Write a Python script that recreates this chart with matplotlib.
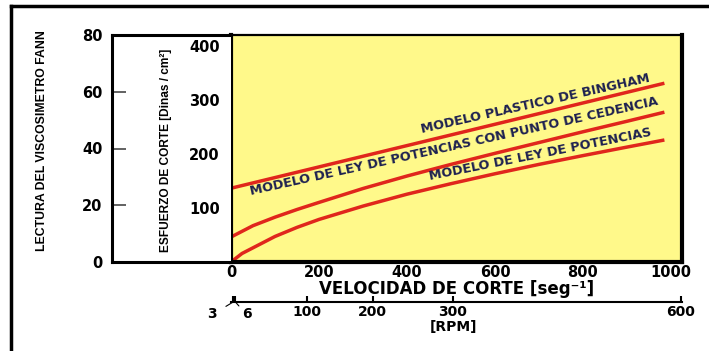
import matplotlib
matplotlib.use('Agg')
import matplotlib.pyplot as plt
from matplotlib.lines import Line2D

# datos (velocidad de corte [1/s], lectura Fann)
bingham_x = [0, 985]
bingham_y = [26, 63]

hb_x = [0, 50, 100, 150, 200, 300, 400, 500, 600, 700, 800, 900, 985]
hb_y = [8.8, 12.8, 15.8, 18.5, 21.0, 25.9, 30.3, 34.4, 38.3, 42.1, 45.9, 49.6, 52.8]

pl_x = [0, 25, 50, 100, 150, 200, 300, 400, 500, 600, 700, 800, 900, 985]
pl_y = [0, 3.0, 5.0, 9.0, 12.2, 15.0, 19.7, 23.9, 27.6, 31.1, 34.4, 37.5, 40.5, 43.0]

x_ticks = [0, 200, 400, 600, 800, 1000]
fann_ticks = [0, 20, 40, 60, 80]
stress_ticks = [100, 200, 300, 400]

rpm_labels = ['3', '6', '100', '200', '300', '600']
rpm_rate = [5, 10, 172, 322, 504, 1022]

model_names = ['MODELO PLASTICO DE BINGHAM',
               'MODELO DE LEY DE POTENCIAS CON PUNTO DE CEDENCIA',
               'MODELO DE LEY DE POTENCIAS']

plt.rcParams['font.family'] = ['DejaVu Sans']
plt.rcParams['font.weight'] = 'bold'

W, H = 709, 351
fig = plt.figure(figsize=(W / 100, H / 100), dpi=100)

# marco exterior (solo arriba e izquierda)
fig.add_artist(Line2D([11 / W, 1], [1 - 6 / H, 1 - 6 / H], color='black', lw=2.5))
fig.add_artist(Line2D([11 / W, 11 / W], [0, 1 - 6 / H], color='black', lw=2.5))

x0, x1, yt, yb = 231, 682, 35, 262
ax = fig.add_axes([x0 / W, 1 - yb / H, (x1 - x0) / W, (yb - yt) / H])
ax.set_facecolor('#fff98a')
ax.set_xlim(0, 1025)
ax.set_ylim(0, 80)

red = '#e0261c'
ax.plot(bingham_x, bingham_y, color=red, lw=2.5, solid_capstyle='butt')
ax.plot(hb_x, hb_y, color=red, lw=2.5, solid_capstyle='butt')
ax.plot(pl_x, pl_y, color=red, lw=2.5, solid_capstyle='butt')

txt = dict(color='#1e2150', fontweight='bold', fontsize=9.3, ha='center', va='center')
ax.text(691, 55.8, model_names[0], rotation=12.7, **txt)
ax.text(507, 40.8, model_names[1], rotation=12.5, **txt)
ax.text(703, 38.0, model_names[2], rotation=11.3, **txt)

ax.set_xticks(x_ticks)
ax.set_xticklabels([str(v) for v in x_ticks], fontweight='bold', fontsize=10.5)
ax.tick_params(axis='x', length=0, pad=2)
ax.set_yticks([])
for s in ['left', 'right', 'bottom']:
    ax.spines[s].set_linewidth(3.0)
ax.spines['top'].set_linewidth(1.6)
ax.set_xlabel('VELOCIDAD DE CORTE [seg⁻¹]', fontweight='bold', fontsize=12, labelpad=0)

# caja blanca de la izquierda: lectura Fann y esfuerzo de corte
ax_l = fig.add_axes([112 / W, 1 - yb / H, (x0 - 112) / W, (yb - yt) / H])
ax_l.set_ylim(0, 80)
ax_l.set_xticks([])
ax_l.set_yticks(fann_ticks)
ax_l.set_yticklabels([str(v) for v in fann_ticks], fontweight='bold', fontsize=10.5)
ax_l.tick_params(axis='y', direction='in', length=10, width=1.3, color='#555555', pad=7)
for s in ['left', 'top', 'bottom']:
    ax_l.spines[s].set_linewidth(2.2)
ax_l.spines['right'].set_visible(False)

ax_s = ax_l.twinx()
ax_s.set_ylim(0, 420)
ax_s.set_yticks(stress_ticks)
ax_s.set_yticklabels([str(v) for v in stress_ticks], fontweight='bold', fontsize=10.5)
ax_s.tick_params(axis='y', length=0, pad=-30)
for s in ax_s.spines.values():
    s.set_visible(False)

fig.text(42 / W, 1 - 141 / H, 'LECTURA DEL VISCOSIMETRO FANN', family='Liberation Sans',
         fontsize=8.8, fontweight='bold', rotation=90, ha='center', va='center')
fig.text(166 / W, 1 - 150 / H, 'ESFUERZO DE CORTE [Dinas / cm²]', family='Liberation Sans',
         fontsize=8.6, fontweight='bold', rotation=90, ha='center', va='center')

# eje de RPM
ax_r = fig.add_axes([x0 / W, 1 - 302 / H, (x1 - x0) / W, 0.001])
ax_r.set_xlim(0, 1025)
ax_r.set_yticks([])
for s in ['left', 'right', 'top']:
    ax_r.spines[s].set_visible(False)
ax_r.spines['bottom'].set_linewidth(1.5)
ax_r.set_xticks(rpm_rate)
ax_r.set_xticklabels(['', ''] + rpm_labels[2:], fontweight='bold', fontsize=10)
ax_r.tick_params(axis='x', direction='in', length=4, width=1.5, pad=2)
ax_r.set_xlabel('[RPM]', fontweight='bold', fontsize=10, labelpad=1)
ax_r.xaxis.label.set_position((0.493, 0))
ax_r.annotate(rpm_labels[0], xy=(rpm_rate[0], 0), xytext=(-15, -9), textcoords='offset points',
              ha='center', va='center', fontweight='bold', fontsize=10,
              arrowprops=dict(arrowstyle='-', lw=0.8, color='black', shrinkA=5, shrinkB=0))
ax_r.annotate(rpm_labels[1], xy=(rpm_rate[1], 0), xytext=(8, -9), textcoords='offset points',
              ha='center', va='center', fontweight='bold', fontsize=10,
              arrowprops=dict(arrowstyle='-', lw=0.8, color='black', shrinkA=5, shrinkB=0))

fig.savefig('out.png', dpi=100)
